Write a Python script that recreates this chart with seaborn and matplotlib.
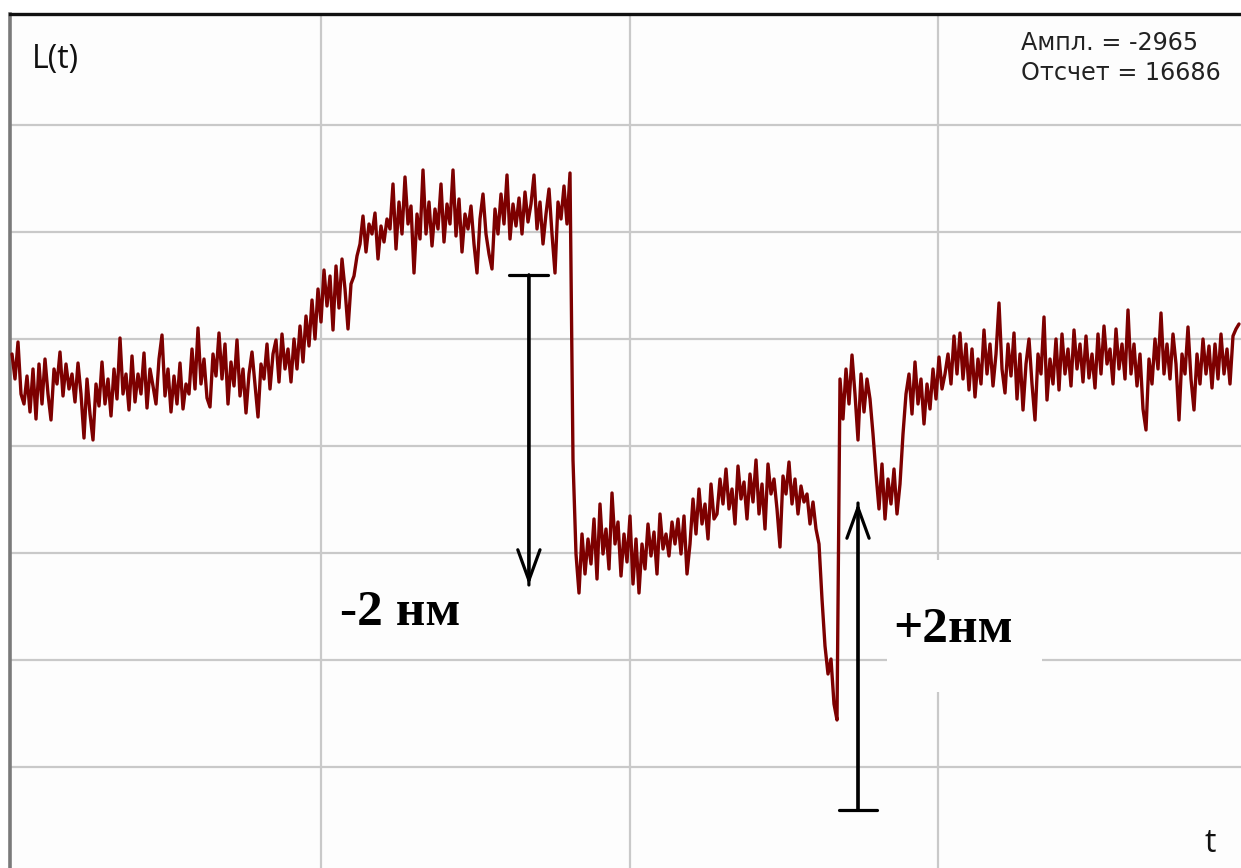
import numpy as np
import pandas as pd
import matplotlib
matplotlib.use("Agg")
import matplotlib.pyplot as plt
import seaborn as sns
from matplotlib.patches import Rectangle

# Interferometer trace L(t): one reading every sample, arbitrary ADC units
L_values = [
    # baseline plateau
    520, 495, 532, 480, 470, 498, 462, 505, 455, 510,
    470, 515, 480, 454, 505, 490, 522, 478, 510, 485,
    500, 472, 511, 480, 436, 495, 460, 434, 490, 468,
    512, 470, 495, 458, 505, 475, 536, 480, 500, 464,
    518, 472, 500, 480, 521, 466, 505, 488, 470, 515,
    539, 478, 505, 462, 498, 470, 511, 465, 490, 480,
    525, 485, 546, 490, 515, 476, 467, 520, 498, 541,
    495, 530, 470, 512, 488, 534, 478, 505, 461, 500,
    522, 490, 457, 510, 495, 530, 485, 520, 534, 492,
    540, 505, 525,
    # slow rise
    492, 535, 505, 548, 512, 558, 528, 574, 535, 585,
    552, 604, 568, 598, 544, 608, 566, 615, 585, 545,
    590, 598, 618,
    # upper plateau
    630, 658, 622, 650, 640, 661, 615, 648, 632, 655,
    645, 690, 625, 672, 640, 697, 650,
    668, 601, 660, 635, 704, 640, 672, 628, 665, 645,
    690, 632, 670, 650, 704, 638, 675, 622, 660, 645,
    668, 630, 601, 655, 680, 640, 620,
    605, 665, 640, 680, 650, 699, 635, 670, 648, 676,
    640, 682, 652, 670, 699, 645, 672, 630, 660, 685,
    640, 601, 672, 655, 688, 650, 701,
    # step down
    414, 320,
    # lower plateau
    281, 340, 300, 335, 310, 355, 295, 370, 320, 345,
    305, 381, 330, 352, 298, 340, 312, 358, 290, 335,
    281, 330, 305, 350, 318, 342, 300, 360, 325, 340,
    318, 352, 330, 355, 320, 358, 300,
    330, 375, 340, 385, 350, 370, 335, 390, 355,
    360, 395, 370, 405, 365, 385, 350, 408, 375, 392,
    355, 400, 372, 414, 360, 390, 345, 410, 380, 395,
    365, 327, 398, 380, 412, 370, 395, 360, 388, 372,
    380, 350, 372, 345,
    # dip and step up
    330, 275, 228, 200, 215, 170, 154, 495, 455,
    505, 470, 519, 480, 434, 500, 462, 495, 475,
    440,
    400, 365, 410, 355, 395, 370, 405, 360, 390,
    440, 480,
    500, 460, 512, 470, 495, 450, 490, 465, 505, 475, 517, 485, 500,
    # final plateau
    520, 490, 538, 500, 541, 495, 530, 484, 525, 477,
    515, 490, 544, 500, 530, 488, 520, 571, 505, 481,
    530, 498, 541, 475, 520, 464, 510, 535, 490, 454,
    520, 500, 557, 474, 515, 490, 535, 484, 540, 500,
    525, 488, 544, 505, 530, 492, 538, 496, 520, 486,
    540, 500, 548, 510, 525, 490, 545, 505, 530, 495,
    564, 500, 530, 488, 520, 465, 444, 515, 490, 535,
    505, 561, 500, 530, 495, 540, 510, 454, 520, 500,
    547, 495, 464, 520, 490, 535, 500, 528, 486, 530,
    495, 540, 500, 525, 490, 538, 545, 550,
]
t_index = list(range(len(L_values)))

# Step annotations: (t, start L, end L), label
step_down = (172.3, 599, 289)
step_up = (282.0, 64, 371)
label_down = "-2 нм"
label_up = "+2нм"
readout_lines = ["Ампл. = -2965", "Отсчет = 16686"]

trace = pd.DataFrame({"t": t_index, "L": L_values})

sns.set_theme(style="white")
plt.rcParams["font.family"] = ["DejaVu Sans"]

W, H = 1241, 868
fig = plt.figure(figsize=(W / 100, H / 100), dpi=100)
fig.patch.set_facecolor("white")
left_px, top_px = 10, 14
ax = fig.add_axes([left_px / W, 0, 1 - left_px / W, (H - top_px) / H])
ax.set_facecolor("#fdfdfd")

sns.lineplot(data=trace, x="t", y="L", ax=ax, color="#7d0000",
             linewidth=2.4, estimator=None, zorder=3)

ax.set_xlim((left_px - 12) / 3, (W - 12) / 3)
ax.set_ylim(874 - H, 874 - top_px)

# grid: 4 time divisions, 8 amplitude divisions
ax.set_xticks([103, 206, 308.7])
ax.set_yticks([107 * k for k in range(1, 8)])
ax.grid(True, color="#c9c9c9", linewidth=1.6)
ax.set_axisbelow(True)
ax.tick_params(left=False, bottom=False, labelleft=False, labelbottom=False)
ax.set_xlabel("")
ax.set_ylabel("")

for side in ["right", "bottom"]:
    ax.spines[side].set_visible(False)
ax.spines["top"].set_color("#111111")
ax.spines["top"].set_linewidth(2.4)
ax.spines["left"].set_color("#7a7a7a")
ax.spines["left"].set_linewidth(2.6)

# axis names
ax.text(6.7, 806, "L(t)", fontsize=23, family=["Open Sans", "DejaVu Sans"],
        color="#111111", ha="left", va="baseline")
ax.text(397.5, 22, "t", fontsize=23, family=["Open Sans", "DejaVu Sans"],
        color="#111111", ha="left", va="baseline")

# readout in the corner
ax.text(336.3, 824, readout_lines[0], fontsize=17.2, color="#222222",
        ha="left", va="baseline")
ax.text(336.3, 794, readout_lines[1], fontsize=17.2, color="#222222",
        ha="left", va="baseline")

# step arrows: flat bar at the start, open head at the end
head_kw = dict(arrowstyle="->, head_length=1.1, head_width=0.4",
               color="black", lw=2.3, shrinkA=0, shrinkB=0, mutation_scale=20)
bar_kw = dict(arrowstyle="]-, widthA=0.7, lengthA=0",
              color="black", lw=2.3, shrinkA=0, shrinkB=0, mutation_scale=20)
for (tx, y0, y1) in (step_down, step_up):
    ax.annotate("", xy=(tx, y1), xytext=(tx, y0), arrowprops=head_kw, zorder=5)
    ax.annotate("", xy=(tx, y1), xytext=(tx, y0), arrowprops=bar_kw, zorder=5)

serif = ["Liberation Serif", "DejaVu Serif"]
ax.text(109.3, 249, label_down, fontsize=37, fontweight="bold", family=serif,
        color="black", ha="left", va="baseline", zorder=6)

ax.add_patch(Rectangle((291.7, 182), 51.6, 132, facecolor="#fdfdfd",
                       edgecolor="none", zorder=1))
ax.text(293.7, 232, label_up, fontsize=37, fontweight="bold", family=serif,
        color="black", ha="left", va="baseline", zorder=6)

fig.savefig("out.png", dpi=100)
